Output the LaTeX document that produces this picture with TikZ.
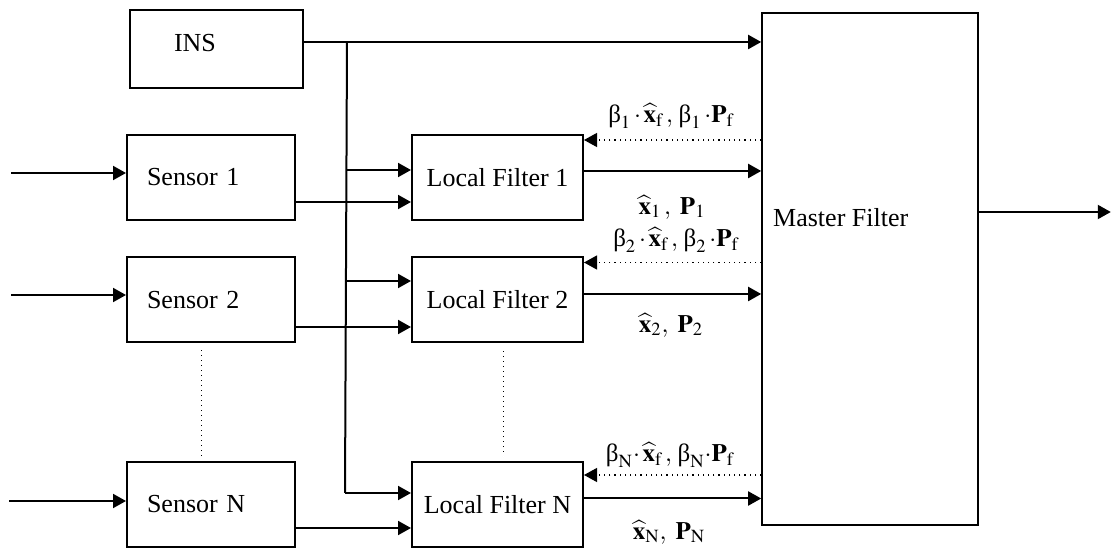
\documentclass[tikz,border=0pt]{standalone}
\usepackage{mathptmx}
\usepackage{fontspec}
\setmainfont{Liberation Serif}
\usetikzlibrary{arrows.meta,calc}
\newcommand{\bt}{\mbox{β}}

\begin{document}
\begin{tikzpicture}[x=0.5pt,y=-0.5pt,
    blk/.style={draw,line width=1pt,minimum height=42.5pt,inner sep=0pt,font=\fontsize{13}{15}\selectfont},
    sbox/.style={blk,minimum width=84pt,text width=64pt,inner xsep=10pt,align=left},
    lbox/.style={blk,minimum width=85.5pt,align=center},
    conn/.style={line width=1pt,-{Triangle[length=6.5pt,width=7pt]}},
    back/.style={line width=0.6pt,dotted,-{Triangle[length=6.5pt,width=7pt]}},
    lab/.style={inner sep=0pt,font=\fontsize{12.5}{14}\selectfont}]
    \useasboundingbox (0,0) rectangle (1114,550);
    % blocks
    \node[sbox,minimum width=86.5pt,text width=42.5pt,inner xsep=22pt,minimum height=39pt] (ins) at (216.5,49) {\raisebox{6pt}{INS}};
    \node[sbox] (sen1) at (211,177.5) {Sensor 1};
    \node[sbox] (sen2) at (211,300) {Sensor 2};
    \node[sbox] (senN) at (211,504.5) {Sensor N};
    \node[lbox] (lf1) at (497.5,177.5) {Local Filter 1};
    \node[lbox] (lf2) at (497.5,300) {Local Filter 2};
    \node[lbox] (lfN) at (497.5,504.5) {Local Filter N};
    \node[draw,line width=0.8pt,minimum width=108pt,minimum height=256pt,inner sep=0pt] (master) at (870,269) {};
    \node[blk,draw=none,anchor=west] (mastertxt) at ($(master.west)+(11,-51)$) {Master Filter};
    % sensor inputs
    \coordinate (in1) at ($(sen1.west)+(-115,-4.5)$);
    \coordinate (in2) at ($(sen2.west)+(-115,-5)$);
    \coordinate (inN) at ($(senN.west)+(-117,-3.5)$);
    \draw[conn] (in1) -- (in1 -| sen1.west);
    \draw[conn] (in2) -- (in2 -| sen2.west);
    \draw[conn] (inN) -- (inN -| senN.west);
    % INS line and bus
    \coordinate (insout) at ($(ins.east)+(0,-7)$);
    \draw[conn] (insout) -- (insout -| master.west);
    \coordinate (bustop) at ($(insout)+(43,0)$);
    \coordinate (busbot) at ($(lfN.west)+(-66,-11.5)$);
    \draw[line width=1pt] (bustop) -- (busbot);
    \coordinate (lf1a) at ($(lf1.west)+(0,-7.5)$);
    \coordinate (lf2a) at ($(lf2.west)+(0,-19)$);
    \draw[conn] (bustop |- lf1a) -- (lf1a);
    \draw[conn] (bustop |- lf2a) -- (lf2a);
    \draw[conn] (busbot) -- (busbot -| lfN.west);
    % sensor outputs
    \coordinate (s1o) at ($(sen1.east)+(0,24.5)$);
    \coordinate (s2o) at ($(sen2.east)+(0,27)$);
    \coordinate (sNo) at ($(senN.east)+(0,23.5)$);
    \draw[conn] (s1o) -- (s1o -| lf1.west);
    \draw[conn] (s2o) -- (s2o -| lf2.west);
    \draw[conn] (sNo) -- (sNo -| lfN.west);
    % local filter outputs
    \coordinate (lf1o) at ($(lf1.east)+(0,-6.5)$);
    \coordinate (lf2o) at ($(lf2.east)+(0,-6)$);
    \coordinate (lfNo) at ($(lfN.east)+(0,-6)$);
    \draw[conn] (lf1o) -- (lf1o -| master.west);
    \draw[conn] (lf2o) -- (lf2o -| master.west);
    \draw[conn] (lfNo) -- (lfNo -| master.west);
    % feedback from master
    \coordinate (lf1b) at ($(lf1.north east)+(0,6)$);
    \coordinate (lf2b) at ($(lf2.north east)+(0,6)$);
    \coordinate (lfNb) at ($(lfN.north east)+(0,14)$);
    \draw[back] (lf1b -| master.west) -- (lf1b);
    \draw[back] (lf2b -| master.west) -- (lf2b);
    \draw[back] (lfNb -| master.west) -- (lfNb);
    % output
    \coordinate (out) at ($(master.east)+(132,-57)$);
    \draw[conn] (master.east |- out) -- (out);
    % dots
    \draw[line width=0.5pt,dotted] ($(sen2.south)+(-10,7)$) -- ($(senN.north)+(-10,-2)$);
    \draw[line width=0.5pt,dotted] ($(lf2.south)+(5.5,8)$) -- ($(lfN.north)+(5.5,-5)$);
    % labels
    \node[lab] (b1) at (671,116) {$\bt_1\,{\cdot}\,\widehat{\mathbf{x}}_{\mathrm{f}}\,,\,\bt_1\,{\cdot}\mathbf{P}_{\mathrm{f}}$};
    \node[lab] (x1) at (672,207) {$\widehat{\mathbf{x}}_1\,,\ \mathbf{P}_1$};
    \node[lab] (b2) at (676,240) {$\bt_2\,{\cdot}\,\widehat{\mathbf{x}}_{\mathrm{f}}\,,\,\bt_2\,{\cdot}\mathbf{P}_{\mathrm{f}}$};
    \node[lab] (x2) at (671,325) {$\widehat{\mathbf{x}}_2,\ \mathbf{P}_2$};
    \node[lab] (bN) at (670,455) {$\bt_{\mathrm{N}}{\cdot}\,\widehat{\mathbf{x}}_{\mathrm{f}}\,,\,\bt_{\mathrm{N}}{\cdot}\mathbf{P}_{\mathrm{f}}$};
    \node[lab] (xN) at (669,532) {$\widehat{\mathbf{x}}_{\mathrm{N}},\ \mathbf{P}_{\mathrm{N}}$};
\end{tikzpicture}
\end{document}
